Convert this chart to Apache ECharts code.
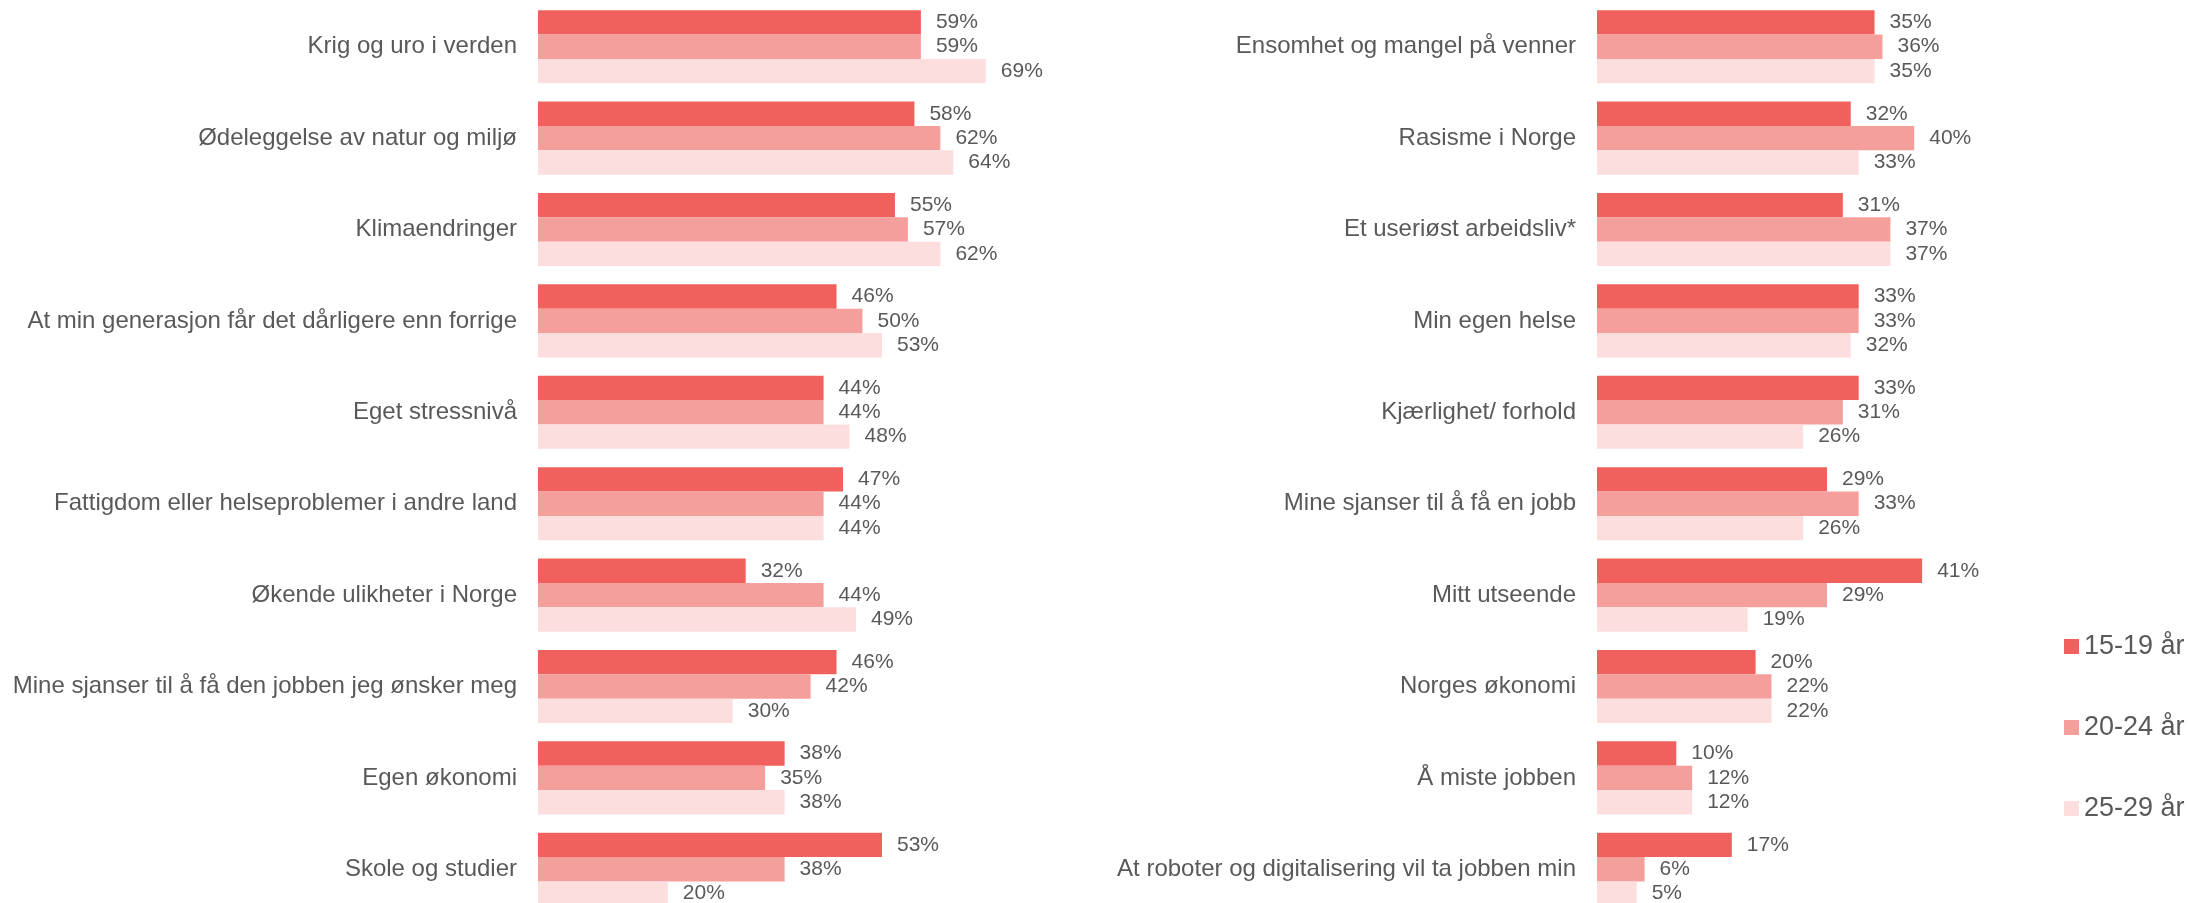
<!DOCTYPE html>
<html>
<head>
<meta charset="utf-8">
<script src="https://cdn.jsdelivr.net/npm/echarts@6/dist/echarts.min.js"></script>
<style>
  html, body { margin: 0; padding: 0; background: #ffffff; }
  #chart { width: 2188px; height: 903px; }
</style>
</head>
<body>
<div id="chart"></div>
<script>
// aldersgrupper
const grupper = ['15-19 år', '20-24 år', '25-29 år'];
const farger = ['#F0605D', '#F59F9C', '#FDDEDF'];

// venstre panel
const kategorierVenstre = [
  'Krig og uro i verden',
  'Ødeleggelse av natur og miljø',
  'Klimaendringer',
  'At min generasjon får det dårligere enn forrige',
  'Eget stressnivå',
  'Fattigdom eller helseproblemer i andre land',
  'Økende ulikheter i Norge',
  'Mine sjanser til å få den jobben jeg ønsker meg',
  'Egen økonomi',
  'Skole og studier'
];
const venstre1519 = [59, 58, 55, 46, 44, 47, 32, 46, 38, 53];
const venstre2024 = [59, 62, 57, 50, 44, 44, 44, 42, 35, 38];
const venstre2529 = [69, 64, 62, 53, 48, 44, 49, 30, 38, 20];

// høyre panel
const kategorierHoyre = [
  'Ensomhet og mangel på venner',
  'Rasisme i Norge',
  'Et useriøst arbeidsliv*',
  'Min egen helse',
  'Kjærlighet/ forhold',
  'Mine sjanser til å få en jobb',
  'Mitt utseende',
  'Norges økonomi',
  'Å miste jobben',
  'At roboter og digitalisering vil ta jobben min'
];
const hoyre1519 = [35, 32, 31, 33, 33, 29, 41, 20, 10, 17];
const hoyre2024 = [36, 40, 37, 33, 31, 33, 29, 22, 12, 6];
const hoyre2529 = [35, 33, 37, 32, 26, 26, 19, 22, 12, 5];

const tekstFarge = '#595959';
const font = '"Liberation Sans", Arial, sans-serif';

function lagSerie(navn, data, farge, indeks) {
  return {
    name: navn,
    type: 'bar',
    xAxisIndex: indeks,
    yAxisIndex: indeks,
    data: data,
    barGap: '0%',
    barCategoryGap: '20%',
    itemStyle: { color: farge },
    label: {
      show: true,
      position: 'right',
      distance: 15,
      color: tekstFarge,
      fontSize: 21,
      fontFamily: font,
      formatter: p => p.value + '%'
    },
    animation: false
  };
}

function xAkse(indeks) {
  return {
    gridIndex: indeks,
    type: 'value',
    min: 0,
    max: 100,
    show: false
  };
}

function yAkse(indeks, kategorier) {
  return {
    gridIndex: indeks,
    type: 'category',
    data: kategorier,
    inverse: true,
    axisLine: { show: false },
    axisTick: { show: false },
    splitLine: { show: false },
    axisLabel: {
      color: tekstFarge,
      fontSize: 24,
      fontFamily: font,
      margin: 21
    }
  };
}

const grafico = echarts.init(document.getElementById('chart'));

const option = {
  backgroundColor: '#ffffff',
  animation: false,
  legend: {
    orient: 'vertical',
    left: 2059,
    top: 628,
    icon: 'rect',
    itemWidth: 15,
    itemHeight: 15,
    itemGap: 54,
    data: grupper,
    textStyle: {
      color: tekstFarge,
      fontSize: 27,
      fontFamily: font
    }
  },
  grid: [
    { left: 538, width: 649, top: 1, height: 914, outerBoundsMode: 'none', containLabel: false },
    { left: 1597, width: 793, top: 1, height: 914, outerBoundsMode: 'none', containLabel: false }
  ],
  xAxis: [xAkse(0), xAkse(1)],
  yAxis: [yAkse(0, kategorierVenstre), yAkse(1, kategorierHoyre)],
  series: [
    lagSerie(grupper[0], venstre1519, farger[0], 0),
    lagSerie(grupper[1], venstre2024, farger[1], 0),
    lagSerie(grupper[2], venstre2529, farger[2], 0),
    lagSerie(grupper[0], hoyre1519, farger[0], 1),
    lagSerie(grupper[1], hoyre2024, farger[1], 1),
    lagSerie(grupper[2], hoyre2529, farger[2], 1)
  ]
};

grafico.setOption(option);
window.addEventListener('resize', () => grafico.resize());
</script>
</body>
</html>
